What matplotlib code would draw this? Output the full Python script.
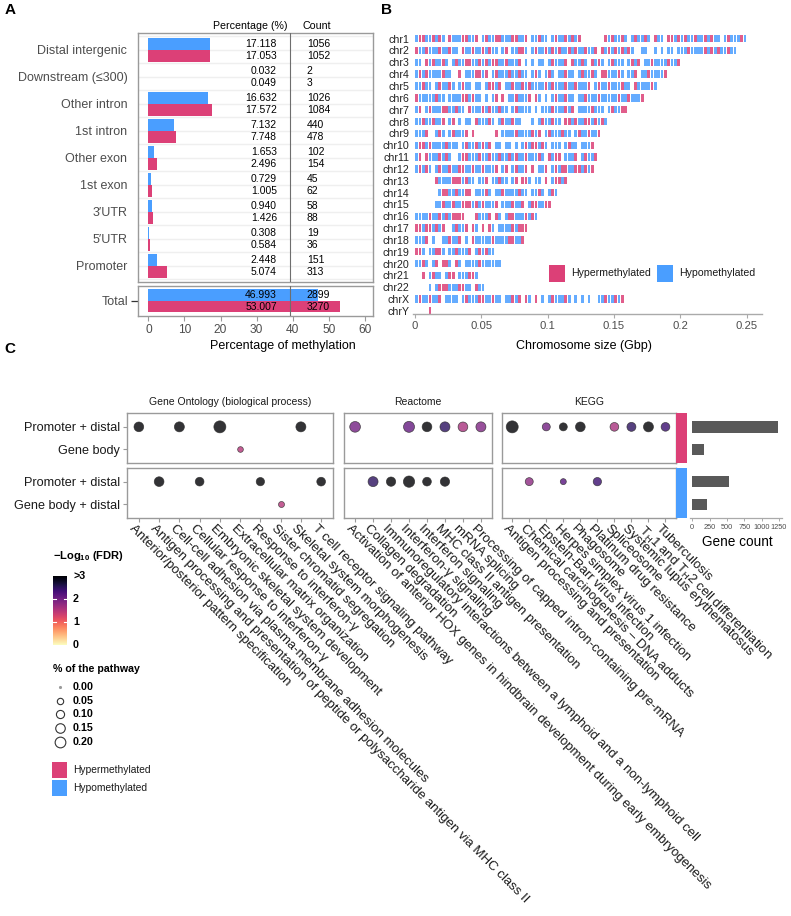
import numpy as np
import matplotlib
matplotlib.use("Agg")
import matplotlib.pyplot as plt
from matplotlib.patches import Rectangle
from matplotlib.colors import Normalize
import matplotlib.transforms as mtransforms

plt.rcParams['font.family'] = ['Liberation Sans', 'DejaVu Sans']
plt.rcParams['mathtext.fontset'] = 'custom'
plt.rcParams['mathtext.rm'] = 'Liberation Sans'
plt.rcParams['mathtext.it'] = 'Liberation Sans:italic'
plt.rcParams['mathtext.bf'] = 'Liberation Sans:bold'
plt.rcParams['mathtext.sf'] = 'Liberation Sans'

# ---------------- DATA ----------------
# Panel A
regions = ["Distal intergenic", "Downstream (≤300)", "Other intron", "1st intron",
           "Other exon", "1st exon", "3′UTR", "5′UTR", "Promoter"]
hypo_pct = [17.118, 0.032, 16.632, 7.132, 1.653, 0.729, 0.940, 0.308, 2.448]
hypo_cnt = [1056, 2, 1026, 440, 102, 45, 58, 19, 151]
hyper_pct = [17.053, 0.049, 17.572, 7.748, 2.496, 1.005, 1.426, 0.584, 5.074]
hyper_cnt = [1052, 3, 1084, 478, 154, 62, 88, 36, 313]
total_pct = {"hypo": 46.993, "hyper": 53.007}
total_cnt = {"hypo": 2899, "hyper": 3270}

# Panel B: DMR positions binned at 0.0025 Gbp (h = hyper, o = hypo, _ = none)
chrom_names = ["chr1", "chr2", "chr3", "chr4", "chr5", "chr6", "chr7", "chr8", "chr9",
               "chr10", "chr11", "chr12", "chr13", "chr14", "chr15", "chr16", "chr17",
               "chr18", "chr19", "chr20", "chr21", "chr22", "chrX", "chrY"]
chrom_bin_gbp = 0.0025
chrom_patterns = [
    "ohhoohoho_ hooohhooh_ ohoohhoooh hooh_oohoo _ohoohohoh _______hoh ooho_ohooh o_hoo_hhoh ohoohoohoh oo_ohoooho",
    "hoohooohoo hoo_hoohoo hohoo_oh_o ohho_ohooh ohohoohoho ohooh_hoho hohoho__oo __o_o_oo_o oohoooohoh ohoohoo",
    "oo_hohooho _ohoohhooh ohohhoohoo oh_o_o_oo_ ohoooh_hoo ho_hoho_oh ooo_ohoh_o ohoooohooh",
    "ohohooooho o__h_ooohh oh_ohoooho ohoo_oho_o ho_oohoo_o hooho_hhoo oho_ooh_oo hooooh",
    "oohoo_ohoo ho_ohoo_oo _ohhoh_ooh oohohooooh ohooohooho ooh_ohooho oohoo_hooo oho",
    "hooooohoo_ oooohhohoo _o_oh_h_oo hoooh_ho_o _ohoohoo_o ohooohoooo ohoohoooh",
    "oh_ohooohh oohoo_hooo hohoohoo_o hoooo_o_oo ohooohoh_o ooohooo_oh oohh",
    "oohoohooh_ oh_o_oo_ho ooho_ohooh oo___o_oho ohoo_hhoho ohhohoho",
    "oooh__oho_ ohoooh_h__ ____h_oooo hoooohoh_o hooohoo_oh oohooh",
    "ohhohooooh ooo_ohooho hoh_oo_oo_ o_ohohhoho _ooo_ohoo_ oooh",
    "oh_hooohoh o__ohhoooh oohoohooho hoohoooho_ hohh_oooh_ ohooh",
    "ohoho_ohoo hoohhoohoo hoooh_oh_o hooh_h_ooh _ohohhoohh ohoh",
    "______hooo ohhhohoo_o oh_oohoo_o h_hho_oo_h _ohhoh",
    "_______ohh oohoohh_oo oho_oohooo ohoo_ooho_ oho",
    "______ooho ohoohhhoho hoooh_oooh ooh_ohhooh h",
    "oooohoohoh ohhhh___ho ooh_ho_ohh ooohoho",
    "hhohhohoh_ _ohooh_ho_ h_ho_ooooh ohhh",
    "oooh_o__oo hooh_o_hoo ooohoooohh ooh",
    "hho_oohho_ oohoooh_oh ohoo",
    "ooho_oh_hh o_ho_ooooh oooooo",
    "__h_ohoo_o hh_ooohho",
    "____o_ohhh ooohhoo_ho o",
    "ohoohooh_o ooo_ohoooh hoohoo_ooh oh_ho_h_o_ ohoooho_o_ o_o__oohoo hoh",
    "____h",
]
chrom_ticks = [0, 0.05, 0.1, 0.15, 0.2, 0.25]
chrom_ticklabels = ["0", "0.05", "0.1", "0.15", "0.2", "0.25"]

# Panel C
go_terms = ["Anterior/posterior pattern specification",
            "Antigen processing and presentation of peptide or polysaccharide antigen via MHC class II",
            "Cell-cell adhesion via plasma-membrane adhesion molecules",
            "Cellular response to interferon-γ",
            "Embryonic skeletal system development",
            "Extracellular matrix organization",
            "Response to interferon-γ",
            "Sister chromatid segregation",
            "Skeletal system morphogenesis",
            "T cell receptor signaling pathway"]
reactome_terms = ["Activation of anterior HOX genes in hindbrain development during early embryogenesis",
                  "Collagen degradation",
                  "Immunoregulatory interactions between a lymphoid and a non-lymphoid cell",
                  "Interferon-γ signaling",
                  "Interferon signaling",
                  "MHC class II antigen presentation",
                  "mRNA splicing",
                  "Processing of capped intron-containing pre-mRNA"]
kegg_terms = ["Antigen processing and presentation",
              "Chemical carcinogenesis – DNA adducts",
              "Epstein-Barr virus infection",
              "Herpes simplex virus 1 infection",
              "Phagosome",
              "Platinum drug resistance",
              "Spliceosome",
              "Systemic lupus erythematosus",
              "T$_{\\mathrm{H}}$1 and T$_{\\mathrm{H}}$2 cell differentiation",
              "Tuberculosis"]

row_labels_hyper = ["Promoter + distal", "Gene body"]
row_labels_hypo = ["Promoter + distal", "Gene body + distal"]

# each row: term index, % of pathway, -log10(FDR)
go_hyper_promoter = {"idx": [0, 2, 4, 8], "pct": [0.157, 0.169, 0.264, 0.169], "fdr": [3.5, 3.5, 3.5, 3.5]}
go_hyper_body = {"idx": [5], "pct": [0.036], "fdr": [1.5]}
go_hypo_promoter = {"idx": [1, 3, 6, 9], "pct": [0.157, 0.119, 0.105, 0.119], "fdr": [3.5, 3.5, 3.5, 3.5]}
go_hypo_body = {"idx": [7], "pct": [0.042], "fdr": [1.5]}

reactome_hyper_promoter = {"idx": [0, 3, 4, 5, 6, 7], "pct": [0.200, 0.214, 0.157, 0.169, 0.157, 0.169],
                           "fdr": [2.0, 2.1, 3.5, 2.5, 1.6, 1.9]}
reactome_hyper_body = {"idx": [], "pct": [], "fdr": []}
reactome_hypo_promoter = {"idx": [1, 2, 3, 4, 5], "pct": [0.169, 0.141, 0.229, 0.119, 0.141],
                          "fdr": [2.5, 3.5, 3.5, 3.5, 3.5]}
reactome_hypo_body = {"idx": [], "pct": [], "fdr": []}

kegg_hyper_promoter = {"idx": [0, 2, 3, 4, 6, 7, 8, 9],
                       "pct": [0.264, 0.095, 0.095, 0.157, 0.119, 0.129, 0.169, 0.119],
                       "fdr": [3.5, 2.0, 3.5, 3.5, 1.6, 2.5, 3.5, 2.4]}
kegg_hyper_body = {"idx": [], "pct": [], "fdr": []}
kegg_hypo_promoter = {"idx": [1, 3, 5], "pct": [0.095, 0.042, 0.105], "fdr": [1.8, 2.2, 2.4]}
kegg_hypo_body = {"idx": [], "pct": [], "fdr": []}

gene_count_hyper = [1240, 173]
gene_count_hypo = [524, 207]
gene_count_ticks = [0, 250, 500, 750, 1000, 1250]
size_legend_values = [0.00, 0.05, 0.10, 0.15, 0.20]
fdr_legend_ticks = [0, 1, 2, 3]
fdr_legend_labels = ["0", "1", "2", ">3"]

# ---------------- STYLE ----------------
W, H = 791, 916
PINK = '#DC4077'
BLUE = '#4A9EFF'
BOX = '#9A9A9A'
TXT_GRAY = '#4D4D4D'
CMAP = plt.get_cmap('magma_r')
NORM = Normalize(0, 3)

fig = plt.figure(figsize=(W / 100, H / 100), dpi=100)


def axpx(x0, y0, x1, y1):
    return fig.add_axes([x0 / W, 1 - y1 / H, (x1 - x0) / W, (y1 - y0) / H])


def ftext(x, y, s, **kw):
    return fig.text(x / W, 1 - y / H, s, **kw)


def dsize(v):
    v = np.asarray(v, dtype=float)
    d_px = 2 + 8.7 * np.sqrt(v / 0.2)
    return (d_px * 0.72) ** 2


def style_box(ax, color=BOX, lw=1.0):
    for sp in ax.spines.values():
        sp.set_color(color)
        sp.set_linewidth(lw)


# ---------------- PANEL A ----------------
ftext(10, 10, "A", fontsize=11, fontweight='bold', ha='center', va='center')
ftext(250.5, 26, "Percentage (%)", fontsize=7.7, ha='center', va='center')
ftext(317, 26, "Count", fontsize=7.7, ha='center', va='center')

axA = axpx(137.7, 33.3, 373.3, 282.3)
yA = np.arange(len(regions))
for v in np.arange(-0.5, len(regions), 0.5):
    axA.axhline(v, color='#EFEFEF', lw=1.0, zorder=0)
axA.barh(yA - 0.225, hypo_pct, height=0.45, color=BLUE, zorder=2)
axA.barh(yA + 0.225, hyper_pct, height=0.45, color=PINK, zorder=2)
axA.axvline(39.1, color='#6E6E6E', lw=0.8, zorder=3)
for i in range(len(regions)):
    axA.text(35.6, i - 0.225, f"{hypo_pct[i]:.3f}", ha='right', va='center', fontsize=7.5, zorder=4)
    axA.text(35.6, i + 0.225, f"{hyper_pct[i]:.3f}", ha='right', va='center', fontsize=7.5, zorder=4)
    axA.text(43.9, i - 0.225, f"{hypo_cnt[i]}", ha='left', va='center', fontsize=7.5, zorder=4)
    axA.text(43.9, i + 0.225, f"{hyper_cnt[i]}", ha='left', va='center', fontsize=7.5, zorder=4)
axA.set_xlim(-2.94, 62.3)
axA.set_ylim(len(regions) - 0.39, -0.61)
axA.set_xticks([])
axA.set_yticks(yA)
axA.set_yticklabels(regions, fontsize=9, color=TXT_GRAY)
axA.tick_params(axis='y', length=0, pad=7.5)
style_box(axA)

axT = axpx(137.7, 285.7, 373.3, 316)
axT.barh([-0.225], [total_pct["hypo"]], height=0.45, color=BLUE, zorder=2)
axT.barh([0.225], [total_pct["hyper"]], height=0.45, color=PINK, zorder=2)
axT.axvline(39.1, color='#6E6E6E', lw=0.8, zorder=3)
axT.text(35.6, -0.225, f"{total_pct['hypo']:.3f}", ha='right', va='center', fontsize=7.5, zorder=4)
axT.text(35.6, 0.225, f"{total_pct['hyper']:.3f}", ha='right', va='center', fontsize=7.5, zorder=4)
axT.text(43.9, -0.225, f"{total_cnt['hypo']}", ha='left', va='center', fontsize=7.5, zorder=4)
axT.text(43.9, 0.225, f"{total_cnt['hyper']}", ha='left', va='center', fontsize=7.5, zorder=4)
axT.set_xlim(-2.94, 62.3)
axT.set_ylim(0.6, -0.6)
axT.set_yticks([0])
axT.set_yticklabels(["Total"], fontsize=9, color=TXT_GRAY)
axT.tick_params(axis='y', length=5, width=0.9, color='#333333', pad=2)
axT.set_xticks([0, 10, 20, 30, 40, 50, 60])
axT.tick_params(axis='x', length=3.5, width=0.8, color=BOX, labelsize=8.6, labelcolor=TXT_GRAY, pad=2)
style_box(axT)
ftext(283, 346, "Percentage of methylation", fontsize=9, ha='center', va='center')

# ---------------- PANEL B ----------------
ftext(387, 10, "B", fontsize=11, fontweight='bold', ha='center', va='center')
axB = axpx(413, 30, 762, 314.3)
for i, pat in enumerate(chrom_patterns):
    p = pat.replace(" ", "")
    for code, col in (("o", BLUE), ("h", PINK)):
        segs = [(j * chrom_bin_gbp + 0.0002, 0.0021) for j, ch in enumerate(p) if ch == code]
        if segs:
            axB.broken_barh(segs, (i - 0.31, 0.62), facecolors=col, alpha=0.85, linewidth=0)
axB.set_xlim(-0.0015, 0.2616)
axB.set_ylim(len(chrom_names) - 0.72, -0.73)
axB.set_yticks(np.arange(len(chrom_names)))
axB.set_yticklabels(chrom_names, fontsize=7.7, color='#222222')
axB.tick_params(axis='y', length=0, pad=2.7)
axB.set_xticks(chrom_ticks)
axB.set_xticklabels(chrom_ticklabels)
axB.tick_params(axis='x', length=3, width=0.8, color='#AAAAAA', labelsize=8.1, labelcolor=TXT_GRAY, pad=2)
for s in ['top', 'right', 'left']:
    axB.spines[s].set_visible(False)
axB.spines['bottom'].set_color('#AAAAAA')
axB.spines['bottom'].set_linewidth(1.0)
ftext(583.5, 346.5, "Chromosome size (Gbp)", fontsize=9, ha='center', va='center')

ov = fig.add_axes([0, 0, 1, 1])
ov.set_xlim(0, W)
ov.set_ylim(H, 0)
ov.axis('off')
ov.add_patch(Rectangle((549.3, 265), 16, 16.5, color=PINK, lw=0))
ov.text(571, 273.5, "Hypermethylated", fontsize=7.6, va='center', ha='left', color='#1A1A1A')
ov.add_patch(Rectangle((657.3, 265), 16, 16.5, color=BLUE, lw=0))
ov.text(679, 273.5, "Hypomethylated", fontsize=7.6, va='center', ha='left', color='#1A1A1A')

# ---------------- PANEL C ----------------
ftext(10, 349, "C", fontsize=11, fontweight='bold', ha='center', va='center')

dbs = [
    ("Gene Ontology (biological process)", go_terms,
     [[go_hyper_promoter, go_hyper_body], [go_hypo_promoter, go_hypo_body]], (126.7, 333.3)),
    ("Reactome", reactome_terms,
     [[reactome_hyper_promoter, reactome_hyper_body], [reactome_hypo_promoter, reactome_hypo_body]], (344.3, 491.7)),
    ("KEGG", kegg_terms,
     [[kegg_hyper_promoter, kegg_hyper_body], [kegg_hypo_promoter, kegg_hypo_body]], (502.0, 675.7)),
]
facets = [(413.3, 463.0), (468.0, 518.0)]
facet_rows = [row_labels_hyper, row_labels_hypo]

for d, (title, terms, rows_by_facet, (x0, x1)) in enumerate(dbs):
    ftext((x0 + x1) / 2, 401.7, title, fontsize=7.5, ha='center', va='center', color='#1A1A1A')
    n = len(terms)
    for f, (fy0, fy1) in enumerate(facets):
        ax = axpx(x0, fy0, x1, fy1)
        for r, row in enumerate(rows_by_facet[f]):
            if len(row["idx"]) == 0:
                continue
            ax.scatter(row["idx"], [r] * len(row["idx"]), s=dsize(row["pct"]),
                       c=np.minimum(row["fdr"], 3), cmap=CMAP, norm=NORM, alpha=0.8,
                       edgecolors='#2a2a2a', linewidths=0.5, zorder=3)
        ax.set_xlim(-0.6, n - 0.4)
        ax.set_ylim(1.6, -0.6)
        style_box(ax)
        ax.set_xticks(np.arange(n))
        ax.set_xticklabels([])
        if f == 1:
            ax.tick_params(axis='x', length=3, width=0.8, color=BOX)
            trans = mtransforms.offset_copy(ax.get_xaxis_transform(), fig=fig, x=-3, y=-5, units='dots')
            for k, term in enumerate(terms):
                ax.text(k, 0, term, transform=trans, rotation=-45, rotation_mode='anchor',
                        ha='left', va='top', fontsize=9.5, color='#1A1A1A')
        else:
            ax.tick_params(axis='x', length=0)
        if d == 0:
            ax.set_yticks([0, 1])
            ax.set_yticklabels(facet_rows[f], fontsize=9.1, color='#1A1A1A')
            ax.tick_params(axis='y', length=3, width=0.8, color=BOX, pad=2)
        else:
            ax.set_yticks([])

# methylation strip
for f, (fy0, fy1) in enumerate(facets):
    axs = axpx(675.7, fy0, 687.5, fy1)
    axs.set_facecolor(PINK if f == 0 else BLUE)
    axs.set_xticks([])
    axs.set_yticks([])
    for sp in axs.spines.values():
        sp.set_visible(False)

# gene counts
for f, (fy0, fy1) in enumerate(facets):
    axg = axpx(690, fy0, 782.3, fy1)
    counts = gene_count_hyper if f == 0 else gene_count_hypo
    axg.barh([0, 1], counts, height=0.5, color='#595959')
    axg.set_xlim(-33, 1297.6)
    axg.set_ylim(1.6, -0.6)
    axg.set_yticks([])
    for s in ['top', 'right', 'left']:
        axg.spines[s].set_visible(False)
    axg.patch.set_alpha(0)
    if f == 1:
        axg.spines['bottom'].set_color('#AAAAAA')
        axg.spines['bottom'].set_linewidth(0.9)
        axg.set_xticks(gene_count_ticks)
        axg.tick_params(axis='x', length=2.5, width=0.7, color='#AAAAAA', labelsize=5.3,
                        labelcolor=TXT_GRAY, pad=1.5)
    else:
        axg.spines['bottom'].set_visible(False)
        axg.set_xticks([])
ftext(737, 541.5, "Gene count", fontsize=9.8, ha='center', va='center')

# ---------------- LEGENDS (panel C) ----------------
ov.text(53, 556, r"$\mathbf{-Log_{10}\ (FDR)}$", fontsize=8, ha='left', va='center')
cax = axpx(53, 576, 67, 645)
cax.imshow(np.linspace(0, 3, 256)[:, None], aspect='auto', cmap=CMAP, norm=NORM,
           origin='lower', extent=(0, 1, 0, 3))
for v in [1, 2]:
    cax.plot([0, 0.2], [v, v], color='white', lw=0.8)
    cax.plot([0.8, 1], [v, v], color='white', lw=0.8)
cax.set_xlim(0, 1)
cax.set_ylim(0, 3)
cax.axis('off')
for v, lab in zip(fdr_legend_ticks, fdr_legend_labels):
    ov.text(73, 645 - v * 23, lab, fontsize=7.7, fontweight='bold', ha='left', va='center')

ov.text(53, 669, "% of the pathway", fontsize=7.7, fontweight='bold', ha='left', va='center')
for k, v in enumerate(size_legend_values):
    yy = 687 + k * 13.7
    ov.scatter([60], [yy], s=dsize([v]), facecolor='#9A9A9A' if v == 0 else 'white',
               edgecolors='#9A9A9A' if v == 0 else '#333333', linewidths=0.8)
    ov.text(73, yy, f"{v:.2f}", fontsize=7.7, fontweight='bold', ha='left', va='center')

ov.add_patch(Rectangle((52, 762), 15, 16, color=PINK, lw=0))
ov.text(73, 770, "Hypermethylated", fontsize=7.4, ha='left', va='center', color='#1A1A1A')
ov.add_patch(Rectangle((52, 780), 15, 16, color=BLUE, lw=0))
ov.text(73, 788, "Hypomethylated", fontsize=7.4, ha='left', va='center', color='#1A1A1A')

fig.savefig("out.png", dpi=100)
